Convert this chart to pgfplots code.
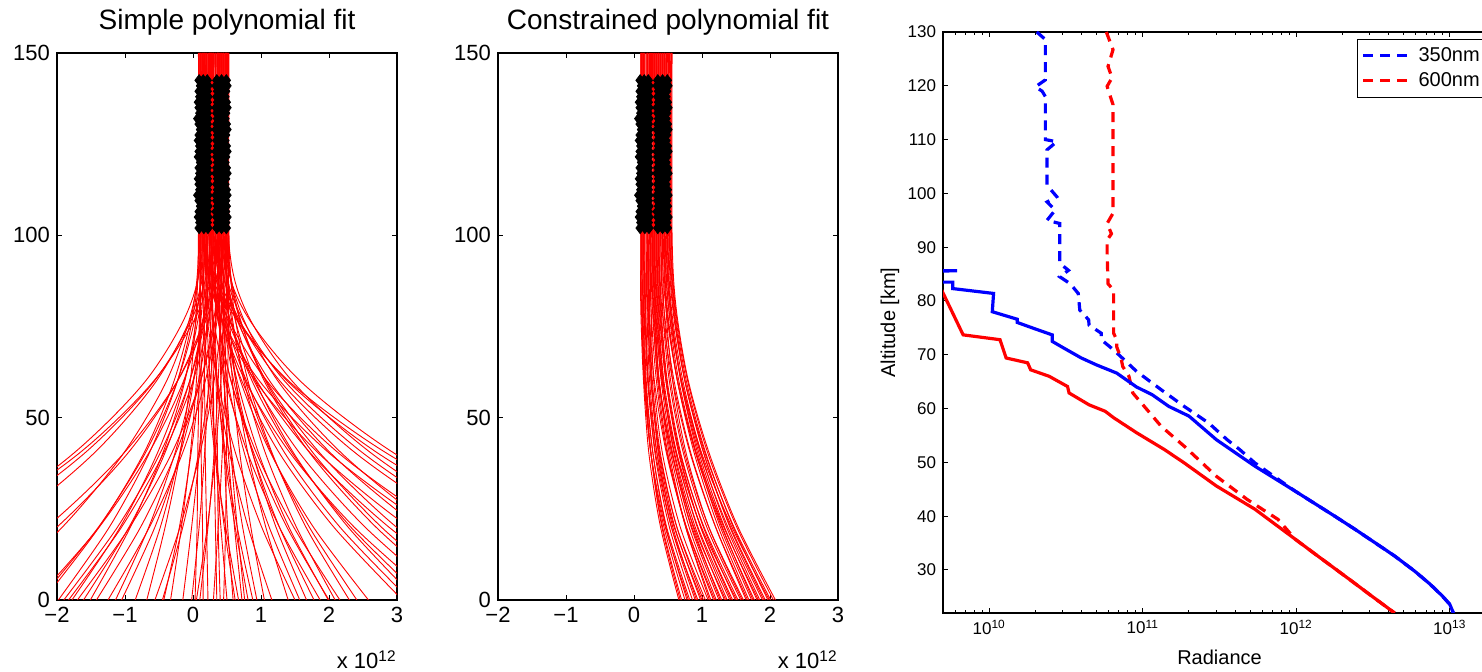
\documentclass[border=0pt]{standalone}
\usepackage{fontspec}
\setmainfont{Liberation Sans}
\usepackage{pgfplots}
\pgfplotsset{compat=1.18}
\usepackage{pgfplotstable}

\pgfplotstableread{
h a b c d e f
102.0 .09 .16 .22 .35 .42 .49
103.5 .10 .15 .21 .36 .41 .48
105.0 .08 .16 .22 .35 .43 .50
106.5 .09 .15 .21 .34 .42 .48
108.0 .11 .16 .22 .36 .41 .49
109.5 .09 .15 .21 .35 .43 .48
111.0 .07 .16 .22 .34 .42 .50
112.5 .10 .15 .21 .36 .41 .49
114.0 .09 .16 .22 .35 .43 .47
115.5 .08 .15 .21 .36 .42 .48
117.0 .10 .16 .22 .34 .41 .50
118.5 .09 .15 .21 .35 .43 .49
120.0 .11 .16 .22 .36 .42 .47
121.5 .08 .15 .21 .35 .41 .48
123.0 .09 .16 .22 .34 .43 .50
124.5 .10 .15 .21 .36 .42 .49
126.0 .08 .16 .22 .35 .41 .47
127.5 .09 .15 .21 .36 .43 .48
129.0 .11 .16 .22 .34 .42 .50
130.5 .09 .15 .21 .35 .41 .49
132.0 .07 .16 .22 .36 .43 .47
133.5 .10 .15 .21 .35 .42 .48
135.0 .09 .16 .22 .34 .41 .50
136.5 .08 .15 .21 .36 .43 .49
138.0 .10 .16 .22 .35 .42 .47
139.5 .09 .15 .21 .36 .41 .48
141.0 .11 .16 .22 .34 .43 .50
142.5 .09 .15 .21 .35 .42 .49
}\blackpts

\newcommand{\rl}[1]{\addplot[red, line width=0.45pt, smooth] coordinates {#1};}
\newcommand{\blk}{%
\addplot[only marks, mark=diamond*, mark size=2.8pt, black] table[x=a, y=h] {\blackpts};
\addplot[only marks, mark=diamond*, mark size=2.8pt, black] table[x=b, y=h] {\blackpts};
\addplot[only marks, mark=diamond*, mark size=2.8pt, black] table[x=c, y=h] {\blackpts};
\addplot[only marks, mark=diamond*, mark size=2.8pt, black] table[x=d, y=h] {\blackpts};
\addplot[only marks, mark=diamond*, mark size=2.8pt, black] table[x=e, y=h] {\blackpts};
\addplot[only marks, mark=diamond*, mark size=2.8pt, black] table[x=f, y=h] {\blackpts};}

\pgfplotsset{
  mat/.style={scale only axis, axis line style={line width=0.6pt}, tick style={black, line width=0.5pt},
    tick align=inside, xtick pos=both, ytick pos=both, major tick length=2.6pt, minor tick length=1.5pt},
  lin/.style={mat, width=170pt, height=273.5pt, xmin=-2, xmax=3, ymin=0, ymax=150,
    xtick={-2,-1,0,1,2,3}, xticklabels={−2,−1,0,1,2,3}, ytick={0,50,100,150}, yticklabels={0,50,100,150},
    tick label style={font=\fontsize{11}{13}\selectfont},
    every axis title/.style={at={(0.5,1)}, anchor=base, yshift=11.5pt, font=\fontsize{14}{16}\selectfont}},
}

\begin{document}
\begin{tikzpicture}
\useasboundingbox (0,0) rectangle (741pt,336pt);
\clip (0,0) rectangle (741pt,336pt);

% ---------------- panel 1 ----------------
\begin{axis}[lin, name=ax1, at={(28.5pt,36pt)}, anchor=south west, title={Simple polynomial fit}]
\rl{(.10,150)(.10,100)(.02,80)(-.23,60)(-.65,40)(-1.23,20)(-1.98,0)}
\rl{(.35,150)(.35,100)(.26,80)(.00,60)(-.44,40)(-1.05,20)(-1.83,0)}
\rl{(.18,150)(.18,100)(.10,80)(-.13,60)(-.53,40)(-1.07,20)(-1.78,0)}
\rl{(.45,150)(.45,100)(.36,80)(.11,60)(-.32,40)(-.93,20)(-1.70,0)}
\rl{(.25,150)(.25,100)(.18,80)(-.05,60)(-.42,40)(-.94,20)(-1.61,0)}
\rl{(.14,150)(.14,100)(.07,80)(-.12,60)(-.45,40)(-.92,20)(-1.51,0)}
\rl{(.40,150)(.40,100)(.33,80)(.11,60)(-.26,40)(-.77,20)(-1.42,0)}
\rl{(.22,150)(.22,100)(.17,80)(.00,60)(-.27,40)(-.65,20)(-1.14,0)}
\rl{(.30,150)(.30,100)(.25,80)(.08,60)(-.19,40)(-.56,20)(-1.05,0)}
\rl{(.08,150)(.08,100)(.05,80)(-.04,60)(-.19,40)(-.41,20)(-.68,0)}
\rl{(.47,150)(.47,100)(.43,80)(.31,60)(.10,40)(-.19,20)(-.56,0)}
\rl{(.20,150)(.20,100)(.18,80)(.10,60)(-.03,40)(-.20,20)(-.43,0)}
\rl{(.12,150)(.12,100)(.10,80)(.05,60)(-.04,40)(-.17,20)(-.33,0)}
\rl{(.28,150)(.28,100)(.27,80)(.23,60)(.17,40)(.09,20)(-.02,0)}
\rl{(.10,150)(.10,100)(.10,80)(.09,60)(.07,40)(.06,20)(.03,0)}
\rl{(.42,150)(.42,100)(.41,80)(.37,60)(.31,40)(.22,20)(.10,0)}
\rl{(.16,150)(.16,100)(.16,80)(.17,60)(.18,40)(.20,20)(.22,0)}
\rl{(.50,150)(.50,100)(.49,80)(.47,60)(.43,40)(.37,20)(.30,0)}
\rl{(.33,150)(.33,100)(.33,80)(.34,60)(.36,40)(.37,20)(.40,0)}
\rl{(.24,150)(.24,100)(.25,80)(.28,60)(.33,40)(.41,20)(.50,0)}
\rl{(.38,150)(.38,100)(.39,80)(.41,60)(.46,40)(.51,20)(.59,0)}
\rl{(.13,150)(.13,100)(.15,80)(.22,60)(.32,40)(.48,20)(.67,0)}
\rl{(.44,150)(.44,100)(.45,80)(.49,60)(.56,40)(.65,20)(.76,0)}
\rl{(.27,150)(.27,100)(.29,80)(.36,60)(.46,40)(.62,20)(.81,0)}
\rl{(.36,150)(.36,100)(.38,80)(.45,60)(.57,40)(.73,20)(.94,0)}
\rl{(.19,150)(.19,100)(.23,80)(.35,60)(.54,40)(.81,20)(1.16,0)}
\rl{(.48,150)(.48,100)(.52,80)(.63,60)(.81,40)(1.07,20)(1.40,0)}
\rl{(.31,150)(.31,100)(.36,80)(.51,60)(.76,40)(1.12,20)(1.57,0)}
\rl{(.43,150)(.43,100)(.48,80)(.63,60)(.88,40)(1.22,20)(1.67,0)}
\rl{(.21,150)(.21,100)(.28,80)(.48,60)(.81,40)(1.27,20)(1.87,0)}
\rl{(.39,150)(.39,100)(.45,80)(.65,60)(.97,40)(1.41,20)(1.99,0)}
\rl{(.50,150)(.50,100)(.56,80)(.75,60)(1.07,40)(1.52,20)(2.09,0)}
\rl{(.26,150)(.26,100)(.34,80)(.56,60)(.94,40)(1.48,20)(2.16,0)}
\rl{(.46,150)(.46,100)(.54,80)(.77,60)(1.16,40)(1.71,20)(2.41,0)}
\rl{(.34,150)(.34,100)(.43,80)(.70,60)(1.15,40)(1.77,20)(2.58,0)}
\rl{(.15,150)(.15,100)(-.06,80)(-.70,60)(-1.77,40)(-3.26,20)(-5.18,0)}
\rl{(.32,150)(.32,100)(.10,80)(-.58,60)(-1.69,40)(-3.26,20)(-5.27,0)}
\rl{(.20,150)(.20,100)(.02,80)(-.54,60)(-1.47,40)(-2.77,20)(-4.43,0)}
\rl{(.41,150)(.41,100)(.25,80)(-.23,60)(-1.03,40)(-2.15,20)(-3.59,0)}
\rl{(.12,150)(.12,100)(-.01,80)(-.39,60)(-1.03,40)(-1.92,20)(-3.06,0)}
\rl{(.28,150)(.28,100)(.18,80)(-.14,60)(-.66,40)(-1.38,20)(-2.32,0)}
\rl{(.09,150)(.09,100)(.00,80)(-.28,60)(-.73,40)(-1.38,20)(-2.20,0)}
\rl{(.45,150)(.45,100)(.73,80)(1.58,60)(2.98,40)(4.96,20)(7.49,0)}
\rl{(.30,150)(.30,100)(.57,80)(1.39,60)(2.74,40)(4.64,20)(7.08,0)}
\rl{(.52,150)(.52,100)(.76,80)(1.46,60)(2.64,40)(4.29,20)(6.41,0)}
\rl{(.37,150)(.37,100)(.60,80)(1.28,60)(2.41,40)(4.00,20)(6.04,0)}
\rl{(.23,150)(.23,100)(.45,80)(1.09,60)(2.16,40)(3.67,20)(5.60,0)}
\rl{(.49,150)(.49,100)(.68,80)(1.25,60)(2.20,40)(3.53,20)(5.24,0)}
\rl{(.40,150)(.40,100)(.58,80)(1.13,60)(2.04,40)(3.32,20)(4.96,0)}
\rl{(.17,150)(.17,100)(.36,80)(.92,60)(1.86,40)(3.17,20)(4.85,0)}
\rl{(.44,150)(.44,100)(.60,80)(1.08,60)(1.88,40)(2.99,20)(4.43,0)}
\rl{(.29,150)(.29,100)(.45,80)(.94,60)(1.74,40)(2.88,20)(4.33,0)}
\rl{(.51,150)(.51,100)(.65,80)(1.05,60)(1.73,40)(2.69,20)(3.91,0)}
\rl{(.36,150)(.36,100)(.50,80)(.90,60)(1.58,40)(2.53,20)(3.75,0)}
\rl{(.24,150)(.24,100)(.37,80)(.77,60)(1.44,40)(2.37,20)(3.57,0)}
\rl{(.47,150)(.47,100)(.58,80)(.92,60)(1.49,40)(2.28,20)(3.29,0)}
\rl{(.33,150)(.33,100)(.44,80)(.79,60)(1.36,40)(2.16,20)(3.19,0)}
\rl{(.30,150)(.30,100)(.21,80)(-.05,60)(-.49,40)(-1.11,20)(-1.90,0)}
\rl{(.45,150)(.45,100)(.38,80)(.18,60)(-.16,40)(-.64,20)(-1.25,0)}
\rl{(.17,150)(.17,100)(.13,80)(.01,60)(-.20,40)(-.48,20)(-.85,0)}
\rl{(.38,150)(.38,100)(.35,80)(.25,60)(.08,40)(-.15,20)(-.45,0)}
\rl{(.22,150)(.22,100)(.21,80)(.16,60)(.09,40)(-.02,20)(-.15,0)}
\rl{(.48,150)(.48,100)(.46,80)(.41,60)(.33,40)(.21,20)(.05,0)}
\rl{(.11,150)(.11,100)(.11,80)(.12,60)(.12,40)(.14,20)(.15,0)}
\rl{(.29,150)(.29,100)(.29,80)(.30,60)(.31,40)(.33,20)(.35,0)}
\rl{(.52,150)(.52,100)(.52,80)(.51,60)(.49,40)(.48,20)(.45,0)}
\rl{(.18,150)(.18,100)(.20,80)(.25,60)(.34,40)(.46,20)(.62,0)}
\rl{(.41,150)(.41,100)(.42,80)(.46,60)(.52,40)(.61,20)(.72,0)}
\rl{(.25,150)(.25,100)(.28,80)(.35,60)(.48,40)(.65,20)(.88,0)}
\rl{(.49,150)(.49,100)(.51,80)(.58,60)(.69,40)(.85,20)(1.05,0)}
\rl{(.14,150)(.14,100)(.19,80)(.36,60)(.63,40)(1.01,20)(1.50,0)}
\rl{(.37,150)(.37,100)(.43,80)(.60,60)(.88,40)(1.27,20)(1.78,0)}
\rl{(.28,150)(.28,100)(.35,80)(.56,60)(.90,40)(1.38,20)(2.00,0)}
\rl{(.53,150)(.53,100)(.60,80)(.81,60)(1.17,40)(1.66,20)(2.30,0)}
\rl{(.25,150)(.25,100)(.54,80)(1.41,60)(2.87,40)(4.90,20)(7.52,0)}
\rl{(.42,150)(.42,100)(.65,80)(1.35,60)(2.52,40)(4.15,20)(6.25,0)}
\rl{(.15,150)(.15,100)(.36,80)(.98,60)(2.02,40)(3.48,20)(5.35,0)}
\rl{(.50,150)(.50,100)(.64,80)(1.07,60)(1.78,40)(2.77,20)(4.04,0)}
\rl{(.38,150)(.38,100)(.50,80)(.87,60)(1.47,40)(2.32,20)(3.41,0)}
\rl{(.27,150)(.27,100)(.38,80)(.72,60)(1.28,40)(2.07,20)(3.08,0)}
\rl{(.26,150)(.26,100)(.05,80)(-.57,60)(-1.61,40)(-3.06,20)(-4.93,0)}
\rl{(.36,150)(.36,100)(.21,80)(-.23,60)(-.97,40)(-2.00,20)(-3.33,0)}
\rl{(.16,150)(.16,100)(.06,80)(-.23,60)(-.71,40)(-1.39,20)(-2.26,0)}
\blk
\end{axis}
\node[anchor=base east, inner sep=0pt, font=\fontsize{11}{13}\selectfont] at ([yshift=-34.5pt]ax1.south east) {x 10\textsuperscript{12}};

% ---------------- panel 2 ----------------
\begin{axis}[lin, name=ax2, at={(249pt,36pt)}, anchor=south west, title={Constrained polynomial fit}]
\rl{(.10,150)(.10,100)(.10,80)(.14,60)(.22,40)(.39,20)(.66,0)}
\rl{(.12,150)(.12,100)(.12,80)(.16,60)(.25,40)(.42,20)(.70,0)}
\rl{(.11,150)(.11,100)(.12,80)(.15,60)(.25,40)(.44,20)(.75,0)}
\rl{(.14,150)(.14,100)(.15,80)(.18,60)(.28,40)(.47,20)(.78,0)}
\rl{(.13,150)(.13,100)(.14,80)(.17,60)(.28,40)(.48,20)(.82,0)}
\rl{(.16,150)(.16,100)(.17,80)(.21,60)(.31,40)(.52,20)(.86,0)}
\rl{(.18,150)(.18,100)(.19,80)(.23,60)(.34,40)(.55,20)(.90,0)}
\rl{(.15,150)(.15,100)(.16,80)(.20,60)(.32,40)(.55,20)(.94,0)}
\rl{(.20,150)(.20,100)(.21,80)(.25,60)(.37,40)(.60,20)(.98,0)}
\rl{(.22,150)(.22,100)(.23,80)(.27,60)(.39,40)(.63,20)(1.02,0)}
\rl{(.19,150)(.19,100)(.20,80)(.25,60)(.38,40)(.63,20)(1.05,0)}
\rl{(.24,150)(.24,100)(.25,80)(.29,60)(.42,40)(.68,20)(1.09,0)}
\rl{(.26,150)(.26,100)(.28,80)(.35,60)(.50,40)(.76,20)(1.13,0)}
\rl{(.23,150)(.23,100)(.25,80)(.33,60)(.49,40)(.77,20)(1.17,0)}
\rl{(.28,150)(.28,100)(.30,80)(.37,60)(.54,40)(.81,20)(1.21,0)}
\rl{(.30,150)(.30,100)(.32,80)(.40,60)(.57,40)(.84,20)(1.25,0)}
\rl{(.27,150)(.27,100)(.29,80)(.37,60)(.56,40)(.85,20)(1.29,0)}
\rl{(.32,150)(.32,100)(.34,80)(.42,60)(.60,40)(.90,20)(1.33,0)}
\rl{(.34,150)(.34,100)(.36,80)(.44,60)(.63,40)(.93,20)(1.37,0)}
\rl{(.31,150)(.31,100)(.33,80)(.42,60)(.62,40)(.94,20)(1.41,0)}
\rl{(.36,150)(.36,100)(.38,80)(.47,60)(.66,40)(.98,20)(1.45,0)}
\rl{(.38,150)(.38,100)(.40,80)(.49,60)(.69,40)(1.02,20)(1.49,0)}
\rl{(.35,150)(.35,100)(.37,80)(.47,60)(.68,40)(1.03,20)(1.53,0)}
\rl{(.40,150)(.40,100)(.42,80)(.52,60)(.73,40)(1.07,20)(1.57,0)}
\rl{(.42,150)(.42,100)(.44,80)(.54,60)(.75,40)(1.10,20)(1.61,0)}
\rl{(.39,150)(.39,100)(.44,80)(.59,60)(.84,40)(1.20,20)(1.65,0)}
\rl{(.44,150)(.44,100)(.49,80)(.64,60)(.89,40)(1.24,20)(1.69,0)}
\rl{(.46,150)(.46,100)(.51,80)(.66,60)(.92,40)(1.27,20)(1.73,0)}
\rl{(.43,150)(.43,100)(.48,80)(.64,60)(.91,40)(1.29,20)(1.77,0)}
\rl{(.48,150)(.48,100)(.53,80)(.69,60)(.96,40)(1.33,20)(1.81,0)}
\rl{(.50,150)(.50,100)(.55,80)(.72,60)(.99,40)(1.36,20)(1.85,0)}
\rl{(.47,150)(.47,100)(.53,80)(.70,60)(.98,40)(1.38,20)(1.89,0)}
\rl{(.52,150)(.52,100)(.58,80)(.75,60)(1.03,40)(1.42,20)(1.93,0)}
\rl{(.54,150)(.54,100)(.60,80)(.77,60)(1.06,40)(1.46,20)(1.97,0)}
\rl{(.51,150)(.51,100)(.57,80)(.75,60)(1.05,40)(1.47,20)(2.01,0)}
\rl{(.55,150)(.55,100)(.61,80)(.79,60)(1.09,40)(1.51,20)(2.05,0)}
\rl{(.56,150)(.56,100)(.62,80)(.80,60)(1.11,40)(1.53,20)(2.08,0)}
\rl{(.13,150)(.13,100)(.13,80)(.17,60)(.25,40)(.41,20)(.68,0)}
\rl{(.10,150)(.10,100)(.11,80)(.15,60)(.25,40)(.46,20)(.80,0)}
\rl{(.21,150)(.21,100)(.22,80)(.26,60)(.36,40)(.57,20)(.92,0)}
\rl{(.16,150)(.16,100)(.17,80)(.21,60)(.34,40)(.59,20)(1.00,0)}
\rl{(.29,150)(.29,100)(.31,80)(.37,60)(.52,40)(.76,20)(1.11,0)}
\rl{(.20,150)(.20,100)(.22,80)(.30,60)(.48,40)(.77,20)(1.19,0)}
\rl{(.33,150)(.33,100)(.35,80)(.43,60)(.59,40)(.87,20)(1.27,0)}
\rl{(.25,150)(.25,100)(.27,80)(.36,60)(.56,40)(.88,20)(1.35,0)}
\rl{(.37,150)(.37,100)(.39,80)(.48,60)(.67,40)(.98,20)(1.43,0)}
\rl{(.29,150)(.29,100)(.31,80)(.41,60)(.63,40)(.99,20)(1.51,0)}
\rl{(.45,150)(.45,100)(.47,80)(.57,60)(.77,40)(1.10,20)(1.59,0)}
\rl{(.36,150)(.36,100)(.41,80)(.57,60)(.83,40)(1.20,20)(1.67,0)}
\rl{(.49,150)(.49,100)(.54,80)(.69,60)(.94,40)(1.30,20)(1.75,0)}
\rl{(.41,150)(.41,100)(.47,80)(.64,60)(.92,40)(1.32,20)(1.83,0)}
\rl{(.53,150)(.53,100)(.59,80)(.75,60)(1.03,40)(1.41,20)(1.91,0)}
\rl{(.45,150)(.45,100)(.51,80)(.70,60)(1.00,40)(1.44,20)(1.99,0)}
\blk
\end{axis}
\node[anchor=base east, inner sep=0pt, font=\fontsize{11}{13}\selectfont] at ([yshift=-34.5pt]ax2.south east) {x 10\textsuperscript{12}};

% ---------------- panel 3 ----------------
\begin{axis}[mat, name=ax3, at={(471.5pt,29.5pt)}, anchor=south west, width=276.5pt, height=290.5pt,
  xmode=log, xmin=5e9, xmax=2e13, ymin=22, ymax=130,
  xtick={1e10,1e11,1e12,1e13},
  xticklabels={10\textsuperscript{10},10\textsuperscript{11},10\textsuperscript{12},10\textsuperscript{13}},
  minor xtick={6e9,7e9,8e9,9e9,2e10,3e10,4e10,5e10,6e10,7e10,8e10,9e10,2e11,3e11,4e11,5e11,6e11,7e11,8e11,9e11,2e12,3e12,4e12,5e12,6e12,7e12,8e12,9e12,2e13},
  ytick={30,40,50,60,70,80,90,100,110,120,130},
  yticklabels={30,40,50,60,70,80,90,100,110,120,130},
  tick label style={font=\fontsize{8.5}{10}\selectfont},
  xlabel={Radiance}, ylabel={Altitude [km]},
  label style={font=\fontsize{9.5}{11}\selectfont},
  every axis x label/.style={at={(axis description cs:0.5,-0.0757)}, anchor=center},
  every axis y label/.style={at={(axis description cs:-0.0958,0.5)}, rotate=90, anchor=center},
  legend cell align=left,
  legend image code/.code={\draw[#1] (0pt,0pt) -- (25pt,0pt);},
  legend style={at={(0.7486,0.988)}, anchor=north west, draw=black, font=\fontsize{10}{12}\selectfont, inner sep=2pt, row sep=0pt}]
\addplot[blue, line width=1.6pt, dash pattern=on 5pt off 3.5pt] coordinates {
(2.04e10,130)(2.32e10,128.6)(2.32e10,121.1)(2.0e10,119.8)(2.21e10,119.0)(2.32e10,118.0)(2.32e10,110.0)
(2.75e10,109.6)(2.38e10,108.1)(2.38e10,101.5)(2.75e10,99.4)(2.38e10,98.4)(2.69e10,96.9)(2.38e10,95.0)
(2.88e10,94.4)(2.88e10,87.0)(3.28e10,85.7)(2.88e10,84.5)(3.37e10,83.2)(3.80e10,81.4)(3.89e10,78.3)
(4.44e10,76.5)(4.47e10,75.5)(5.37e10,74.0)(5.37e10,72.8)(6.46e10,70.9)(9.12e10,66.9)(1.318e11,63.5)
(1.862e11,60.4)(2.69e11,57.3)(3.55e11,54.2)(4.27e11,52.4)(5.37e11,49.9)(9.77e11,44.7)(1.78e12,40.0)
(2.40e12,37.6)(3.24e12,35.1)(4.37e12,32.6)(5.89e12,29.8)(7.41e12,27.4)(8.91e12,25.2)(1.0e13,23.6)(1.055e13,22)};
\addlegendentry{350nm}
\addplot[red, line width=1.6pt, dash pattern=on 5pt off 3.5pt] coordinates {
(5.79e10,130)(6.40e10,126.7)(5.94e10,123.6)(6.31e10,121.5)(5.86e10,119.9)(6.25e10,117.4)(6.40e10,116.5)
(6.40e10,96.3)(5.86e10,94.4)(6.25e10,92.5)(5.86e10,91.3)(5.86e10,88.8)(5.94e10,83.2)(6.46e10,82.0)
(6.46e10,74.0)(6.76e10,72.8)(6.76e10,71.5)(7.21e10,69.4)(7.41e10,67.8)(8.13e10,66.0)(8.61e10,62.9)
(1.023e11,60.4)(1.318e11,56.7)(1.862e11,53.0)(3.02e11,47.4)(4.79e11,43.1)(7.6e11,39.4)(9.86e11,35.7)
(1.32e12,33.0)(1.68e12,30.8)(2.28e12,28.0)(3.15e12,25.0)(4.37e12,22)};
\addlegendentry{600nm}
\addplot[blue, line width=1.6pt, forget plot] coordinates {
(2.0e9,85.7)(6.17e9,85.6)(2.0e9,85.5)(2.0e9,83.5)(5.79e9,83.5)(5.79e9,82.3)(1.067e10,81.4)(1.047e10,78.0)
(1.524e10,76.6)(1.524e10,76.0)(1.95e10,74.9)(2.57e10,73.7)(2.57e10,72.5)(2.95e10,71.5)(3.98e10,69.4)
(5.01e10,68.1)(6.76e10,66.6)(9.12e10,64.0)(1.148e11,62.6)(1.479e11,60.4)(2.0e11,58.6)(3.02e11,54.2)
(5.37e11,49.3)(9.77e11,44.7)(1.78e12,40.0)(2.40e12,37.6)(3.24e12,35.1)(4.37e12,32.6)(5.89e12,29.8)
(7.41e12,27.4)(8.91e12,25.2)(1.0e13,23.6)(1.055e13,22)};
\addplot[red, line width=1.6pt, forget plot] coordinates {
(4.79e9,82.6)(6.76e9,73.7)(1.175e10,72.8)(1.288e10,69.4)(1.778e10,68.5)(1.862e10,67.2)(2.455e10,66.0)
(3.236e10,64.1)(3.311e10,62.9)(4.467e10,60.7)(5.69e10,59.5)(6.46e10,58.3)(9.12e10,55.5)(1.38e11,52.4)
(1.862e11,49.9)(3.02e11,45.6)(5.37e11,41.3)(7.28e11,38.5)(9.86e11,35.7)(1.32e12,33.0)(1.68e12,30.8)
(2.28e12,28.0)(3.15e12,25.0)(4.37e12,22)};
\end{axis}
\end{tikzpicture}
\end{document}
